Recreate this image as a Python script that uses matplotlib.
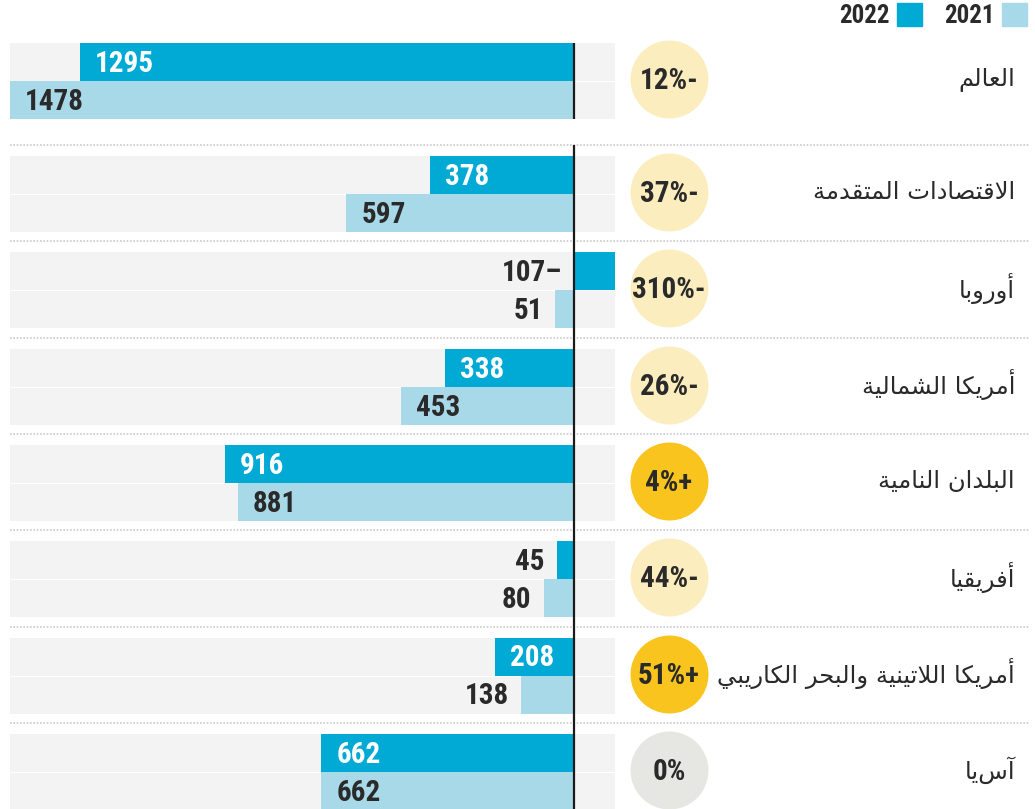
import os
import matplotlib
matplotlib.use("Agg")
import matplotlib.pyplot as plt
from matplotlib.patches import Rectangle
from matplotlib import font_manager

# data
regions = ["العالم", "الاقتصادات المتقدمة", "أوروبا", "أمريكا الشمالية",
           "البلدان النامية", "أفريقيا", "أمريكا اللاتينية والبحر الكاريبي", "آسيا"]
v2022 = [1295, 378, -107, 338, 916, 45, 208, 662]
v2021 = [1478, 597, 51, 453, 881, 80, 138, 662]
change = [-12, -37, -310, -26, 4, -44, 51, 0]
years = ["2022", "2021"]

# simple arabic shaping (presentation forms + visual order), matplotlib has no bidi
DUAL = {'ب': 0xFE8F, 'ت': 0xFE95, 'ح': 0xFEA1, 'ش': 0xFEB5, 'ص': 0xFEB9, 'ع': 0xFEC9,
        'ف': 0xFED1, 'ق': 0xFED5, 'ك': 0xFED9, 'ل': 0xFEDD, 'م': 0xFEE1, 'ن': 0xFEE5,
        'ي': 0xFEF1}
RIGHT = {'ا': 0xFE8D, 'أ': 0xFE83, 'آ': 0xFE81, 'ة': 0xFE93, 'د': 0xFEA9, 'ر': 0xFEAD,
         'و': 0xFEED}
LAMALEF = {'ا': 0xFEFB, 'أ': 0xFEF7, 'آ': 0xFEF5}


def shape(s):
    toks = []
    i = 0
    while i < len(s):
        if s[i] == 'ل' and i + 1 < len(s) and s[i + 1] in LAMALEF:
            toks.append(('R', LAMALEF[s[i + 1]]))
            i += 2
        else:
            c = s[i]
            if c in DUAL:
                toks.append(('D', DUAL[c]))
            elif c in RIGHT:
                toks.append(('R', RIGHT[c]))
            else:
                toks.append((None, c))
            i += 1
    out = []
    for k, (kd, base) in enumerate(toks):
        if kd is None:
            out.append(base)
            continue
        prev = toks[k - 1][0] if k > 0 else None
        nxt = toks[k + 1][0] if k + 1 < len(toks) else None
        jp = prev == 'D'
        jn = kd == 'D' and nxt is not None
        off = 3 if (jp and jn) else 1 if jp else 2 if jn else 0
        out.append(chr(base + off))
    return ''.join(reversed(out))


# pick a narrow bold font for the numbers if one is installed
wanted = ['robotocondensedbold', 'liberationsansnarrowbold',
          'opensanscondensedbold', 'dejavusanscondensedbold']
found = {}
for f in font_manager.fontManager.ttflist:
    key = os.path.splitext(os.path.basename(f.fname))[0].lower()
    key = key.replace('_', '').replace('-', '').replace(' ', '')
    found[key] = f.fname
NUMPROPS = dict(family='Roboto', fontweight='bold')
for w in wanted:
    if w in found:
        NUMPROPS = dict(fontproperties=font_manager.FontProperties(fname=found[w]))
        break

W, H = 1035, 809
C22 = '#00AAD4'
C21 = '#A8D9E8'
BG = '#F3F3F3'
DARK = '#2A2A2A'

fig = plt.figure(figsize=(W / 100, H / 100), dpi=100)
fig.patch.set_facecolor('white')

# overlay in pixel coords for circles, labels, separators, legend
axp = fig.add_axes([0, 0, 1, 1])
axp.set_xlim(0, W)
axp.set_ylim(H, 0)
axp.axis('off')

# bar axes
ax = fig.add_axes([10 / W, 0, 605 / W, 1])
ax.set_xlim(1478, -107)
ax.set_ylim(H, 0)
ax.axis('off')
ax.patch.set_alpha(0)


def numtext(a, x, y, s, size, **kw):
    t = a.text(x, y, s, **kw, **NUMPROPS)
    t.set_fontsize(size)
    return t


pxu = 605 / (1478 + 107)  # pixels per unit
bh = 38
tops = [43] + [156 + 96.3 * (i - 1) for i in range(1, len(regions))]

for i, name in enumerate(regions):
    top = tops[i]
    mid = top + bh
    ax.barh(mid, 1478 + 107, left=-107, height=2 * bh, color=BG, zorder=0)
    ax.hlines(mid, -107, 1478, color='white', lw=0.8, zorder=0.5)
    ax.barh(top + bh / 2, v2022[i], height=bh, color=C22, zorder=1)
    ax.barh(top + 1.5 * bh, v2021[i], height=bh, color=C21, zorder=1)

    for v, yc, inside_col in [(v2022[i], top + bh / 2, 'white'),
                              (v2021[i], top + 1.5 * bh, DARK)]:
        txt = f"{abs(v)}–" if v < 0 else f"{v}"
        if v >= 150:
            numtext(ax, v - 15 / pxu, yc + 2, txt, 21, ha='left', va='center',
                    color=inside_col, zorder=3)
        else:
            numtext(ax, max(v, 0) + 12 / pxu, yc + 2, txt, 21, ha='right', va='center',
                    color=DARK, zorder=3)

    # change circle
    c = change[i]
    fc = '#FBEDBE' if c < 0 else '#F9C41E' if c > 0 else '#E6E6E3'
    axp.scatter([669], [mid - 2], s=3150, color=fc, zorder=2, linewidths=0)
    lab = f"{abs(c)}%-" if c < 0 else f"{c}%+" if c > 0 else "0%"
    numtext(axp, 669, mid, lab, 21, ha='center', va='center', color=DARK, zorder=3)

    axp.text(1015, mid - 2, shape(name), ha='right', va='center', color=DARK,
             fontsize=17.5, family='DejaVu Sans', zorder=3)

    if i > 0:
        sep = tops[i] - 11 if i > 1 else 145
        axp.hlines(sep, 10, 1030, color='#C9C9C9', lw=1.2, linestyles=(0, (1, 1)), zorder=1)

# zero line
ax.vlines(0, 43, 119, color='#1A1A1A', lw=1.6, zorder=4)
ax.vlines(0, 145, H, color='#1A1A1A', lw=1.6, zorder=4)

# legend
for lx, yr, col in [(890, years[0], C22), (995, years[1], C21)]:
    numtext(axp, lx, 16, yr, 18, ha='right', va='center', color=DARK)
    axp.add_patch(Rectangle((lx + 7, 3), 25, 23, color=col))

fig.savefig('out.png', dpi=100)
